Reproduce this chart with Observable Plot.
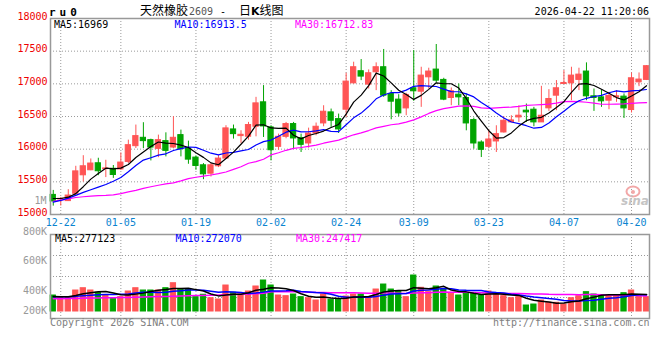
<!DOCTYPE html>
<html><head><meta charset="utf-8">
<script src="https://cdn.jsdelivr.net/npm/d3@7"></script>
<script src="https://cdn.jsdelivr.net/npm/@observablehq/plot@0.6"></script>
<style>
html,body{margin:0;padding:0;background:#fff;}
#wrap{position:relative;width:660px;height:360px;overflow:hidden;background:#fff;}
#wrap > svg{position:absolute;left:0;}
</style></head><body><div id="wrap"></div>
<script>
const dates = ["12-19","12-22","12-23","12-24","12-25","12-26","12-29","12-30","12-31",
"01-05","01-06","01-07","01-08","01-09","01-12","01-13","01-14","01-15","01-16",
"01-19","01-20","01-21","01-22","01-23","01-26","01-27","01-28","01-29","01-30",
"02-02","02-03","02-04","02-05","02-06","02-09","02-10","02-11","02-12","02-13",
"02-24","02-25","02-26","02-27","03-02","03-03","03-04","03-05","03-06",
"03-09","03-10","03-11","03-12","03-13","03-16","03-17","03-18","03-19","03-20",
"03-23","03-24","03-25","03-26","03-27","03-30","03-31","04-01","04-02","04-03",
"04-07","04-08","04-09","04-10","04-13","04-14","04-15","04-16","04-17","04-20","04-21","04-22"];
const opens = [15300,15230,15205,15317,15600,15677,15784,15695,15700,15690,15805,16046,16174,16138,16005,16123,16025,16215,16010,15871,
15753,15625,15738,15856,16302,16200,16190,16343,16717,16333,16036,16189,16384,16169,16087,16240,16394,16563,16460,16604,
17008,17193,16988,17177,17254,16845,16758,16624,16932,16880,17100,17218,17060,16783,16834,16783,16445,16102,16036,16118,
16256,16410,16486,16589,16604,16410,16625,16819,16998,17008,17060,17188,16809,16793,16742,16793,16804,16599,17023,17060];
const highs = [15369,15260,15380,15738,15900,15850,15861,15830,15750,15943,16138,16369,16405,16153,16215,16250,16497,16292,16123,15897,
15779,15779,15907,16359,16369,16282,16410,16793,16973,16358,16230,16409,16409,16230,16322,16400,16665,16614,16537,17162,
17331,17372,17213,17321,17526,16896,16834,16855,17510,17254,17239,17602,17085,16937,16998,16845,16476,16128,16292,16358,
16496,16512,16665,16691,16640,16962,16911,17050,17203,17254,17239,17321,16921,16906,16870,16896,16845,17167,17167,17280];
const lows = [15128,15130,15200,15290,15497,15670,15594,15565,15553,15675,15780,16010,16010,15820,15870,15882,16010,15882,15769,15677,
15533,15574,15718,15846,16154,16087,16138,16189,16179,15821,15984,16159,16000,15949,16015,16205,16343,16333,16240,16486,
16998,17049,16921,16896,16793,16450,16496,16512,16732,16640,16921,17013,16742,16665,16665,16281,16000,15872,16015,15949,
16246,16409,16409,16409,16343,16410,16578,16589,16998,16742,16896,16742,16578,16640,16604,16717,16470,16553,16957,17050];
const closes = [15200,15240,15290,15660,15738,15780,15662,15705,15605,15795,16061,16200,16123,16025,16138,15974,16174,16000,15840,15743,
15615,15753,15856,16318,16230,16220,16369,16701,16348,15984,16189,16384,16164,16066,16240,16343,16573,16435,16302,17034,
17254,17111,17162,17254,16819,16727,16548,16830,16886,17126,17188,17049,16758,16886,16793,16394,16087,15990,16148,16230,
16435,16440,16512,16563,16410,16512,16768,16932,17013,17126,17141,16809,16783,16732,16814,16809,16624,17085,17065,17270];
const volumes = [259000,232000,232000,340000,377000,340000,303000,259000,215000,232000,324000,377000,340000,340000,340000,377000,458000,352000,352000,232000,
271000,215000,194000,421000,303000,271000,324000,405000,502000,421000,259000,248000,275000,232000,215000,178000,275000,190000,190000,243000,
275000,275000,232000,356000,437000,356000,324000,232000,583000,384000,313000,405000,352000,287000,259000,287000,287000,259000,324000,287000,
248000,215000,232000,97000,113000,178000,141000,141000,113000,215000,248000,313000,275000,259000,259000,259000,296000,340000,248000,232000];

// moving-average values before a full window exists
const ma5Head = [15245,15245,15265,15320];
const ma10Head = [15189,15215,15251,15292,15338,15379,15420,15460,15510];
const ma30Head = [15200,15220,15240,15260,15272,15282,15288,15292,15300,15320,15345,15370,15400,15425,15448,15468,15485,15515,15550,15570,15588,15605,15625,15650,15690,15730,15785,15810,15846];
const volMa5Head = [245000,240000,240000,260000];
const volMa10Head = [240000,240000,240000,245000,255000,265000,272000,275000,275000];
const volMa30Head = [205000,207000,209000,212000,215000,218000,220000,222000,224000,226000,228000,231000,234000,237000,241000,245000,249000,252000,255000,258000,261000,264000,267000,271000,275000,279000,283000,288000,294000];

const tickDates = ["12-22","01-05","01-19","02-02","02-24","03-09","03-23","04-07","04-20"];
const priceTicks = [15000,15500,16000,16500,17000,17500,18000];
const volTickLabels = ["800K","600K","400K","200K"];
const priceLegend = ["MA5:16969","MA10:16913.5","MA30:16712.83"];
const volLegend = ["MA5:277123","MA10:272070","MA30:247417"];
const maColors = ["#000000","#0000ff","#ff00ff"];

const RED = "#ff5555", GREEN = "#00a400";
const MONO = "'DejaVu Sans Mono', monospace";

function movingAverage(values, n, head) {
  return values.map((_, i) => i < n - 1 ? head[i] : d3.mean(values.slice(i - n + 1, i + 1)));
}
const ma5 = movingAverage(closes, 5, ma5Head);
const ma10 = movingAverage(closes, 10, ma10Head);
const ma30 = movingAverage(closes, 30, ma30Head);
const vma5 = movingAverage(volumes, 5, volMa5Head);
const vma10 = movingAverage(volumes, 10, volMa10Head);
const vma30 = movingAverage(volumes, 30, volMa30Head);

const candles = dates.map((d, i) => ({
  date: d, open: opens[i], high: highs[i], low: lows[i], close: closes[i], volume: volumes[i],
  ma5: ma5[i], ma10: ma10[i], ma30: ma30[i], vma5: vma5[i], vma10: vma10[i], vma30: vma30[i],
  color: closes[i] >= opens[i] ? RED : GREEN
}));

const xScale = {type: "band", domain: dates, range: [49, 649.8], paddingInner: 0.3, paddingOuter: 0.15, axis: null, label: null};
const gridStyle = {stroke: "#9a9a9a", strokeOpacity: 1, strokeDasharray: "1,2"};

const wrap = document.getElementById("wrap");

const price = Plot.plot({
  width: 660, height: 230,
  marginLeft: 50, marginRight: 11, marginTop: 18, marginBottom: 16,
  style: {background: "none", fontFamily: MONO, fontSize: "10px"},
  x: xScale,
  y: {domain: [15000, 18000], axis: null, label: null},
  marks: [
    Plot.gridY(priceTicks.slice(1, -1), gridStyle),
    Plot.gridX(tickDates, gridStyle),
    Plot.ruleX(candles, {x: "date", y1: "low", y2: "high", stroke: "color", strokeWidth: 1}),
    Plot.barY(candles, {x: "date", y1: "open", y2: "close", fill: "color", stroke: "color", strokeWidth: 1}),
    Plot.line(candles, {x: "date", y: "ma30", stroke: maColors[2], strokeWidth: 1.2}),
    Plot.line(candles, {x: "date", y: "ma10", stroke: maColors[1], strokeWidth: 1.2}),
    Plot.line(candles, {x: "date", y: "ma5", stroke: maColors[0], strokeWidth: 1.2}),
    Plot.frame({stroke: "#999", strokeWidth: 1.5}),
    Plot.axisY(priceTicks, {anchor: "left", tickSize: 0, tickPadding: 3, fill: "#ee0000", fontSize: 10, dy: -2, label: null, tickFormat: d => String(d)}),
    Plot.axisX(tickDates, {anchor: "bottom", tickSize: 0, tickPadding: 4, fill: "#0a84d0", fontSize: 10, label: null})
  ]
});
price.style.top = "0px";
wrap.appendChild(price);

// volume panel: baseline (0) at 87px inside its svg, ~16.2K per pixel
const VTOP = 224, V0 = 87, PER_PX = 16200;
const volDomainMax = 1000000;
const volGrid = [1, 2, 3].map(k => (V0 - (10 + k * 84 / 4)) * PER_PX);
const volume = Plot.plot({
  width: 660, height: 100,
  marginLeft: 50, marginRight: 11, marginTop: 10, marginBottom: 6,
  style: {background: "none", fontFamily: MONO, fontSize: "10px"},
  x: xScale,
  y: {domain: [0, volDomainMax], range: [V0, V0 - volDomainMax / PER_PX], axis: null, label: null},
  marks: [
    Plot.gridY(volGrid, gridStyle),
    Plot.gridX(tickDates, gridStyle),
    Plot.barY(candles, {x: "date", y: "volume", fill: "color", stroke: "color", strokeWidth: 1}),
    Plot.line(candles, {x: "date", y: "vma30", stroke: maColors[2], strokeWidth: 1.5}),
    Plot.line(candles, {x: "date", y: "vma10", stroke: maColors[1], strokeWidth: 1.5}),
    Plot.line(candles, {x: "date", y: "vma5", stroke: maColors[0], strokeWidth: 1.5}),
    Plot.frame({stroke: "#999", strokeWidth: 1.5})
  ]
});
volume.style.top = VTOP + "px";
wrap.appendChild(volume);

// static texts overlay
const ns = "http://www.w3.org/2000/svg";
const ov = document.createElementNS(ns, "svg");
ov.setAttribute("width", 660); ov.setAttribute("height", 360);
ov.style.top = "0px";
ov.style.pointerEvents = "none";
const legX = [54, 174.5, 295];
const volLabelY = [234.5, 264, 294, 314];
let html = "";
html += `<text x="49" y="16" font-family="${MONO}" font-weight="bold" font-size="11" letter-spacing="4" fill="#000">ru0</text>`;
html += `<text x="140" y="15" font-family="'Noto Sans CJK SC'" font-size="12" fill="#000">天然橡胶</text>`;
html += `<text x="189" y="14.5" font-family="${MONO}" font-size="10" fill="#555">2609</text>`;
html += `<text x="220" y="14.5" font-family="${MONO}" font-size="10" fill="#000">-</text>`;
html += `<text x="239" y="15" font-family="'Noto Sans CJK SC'" font-size="12" fill="#000">日<tspan font-weight="bold" font-family="'DejaVu Sans'" font-size="11">K</tspan>线图</text>`;
html += `<text x="649" y="15" text-anchor="end" font-family="${MONO}" font-size="10" fill="#000">2026-04-22 11:20:06</text>`;
priceLegend.forEach((t, i) => { html += `<text x="${legX[i]}" y="27.5" font-family="${MONO}" font-size="10" fill="${maColors[i]}">${t}</text>`; });
volLegend.forEach((t, i) => { html += `<text x="${legX[i] + 1}" y="242" font-family="${MONO}" font-size="10" fill="${maColors[i]}">${t}</text>`; });
html += `<text x="46.5" y="204" text-anchor="end" font-family="${MONO}" font-size="10" fill="#999">1M</text>`;
volTickLabels.forEach((t, i) => { html += `<text x="47" y="${volLabelY[i]}" text-anchor="end" font-family="${MONO}" font-size="10" fill="#999">${t}</text>`; });
html += `<text x="50" y="325.5" font-family="${MONO}" font-size="10" fill="#808080">Copyright 2026 SINA.COM</text>`;
html += `<text x="649.5" y="325.5" text-anchor="end" font-family="${MONO}" font-size="10" fill="#808080">http://finance.sina.com.cn</text>`;
// sina watermark
html += `<ellipse cx="633" cy="191.5" rx="6.5" ry="5" fill="none" stroke="#f2a8a8" stroke-width="2"/>`;
html += `<circle cx="633" cy="192" r="2" fill="#f2a8a8"/>`;
html += `<text x="621" y="205" font-family="'DejaVu Sans'" font-style="italic" font-weight="bold" font-size="12" fill="#c4c4c4">sina</text>`;
ov.innerHTML = html;
wrap.appendChild(ov);
</script></body></html>
